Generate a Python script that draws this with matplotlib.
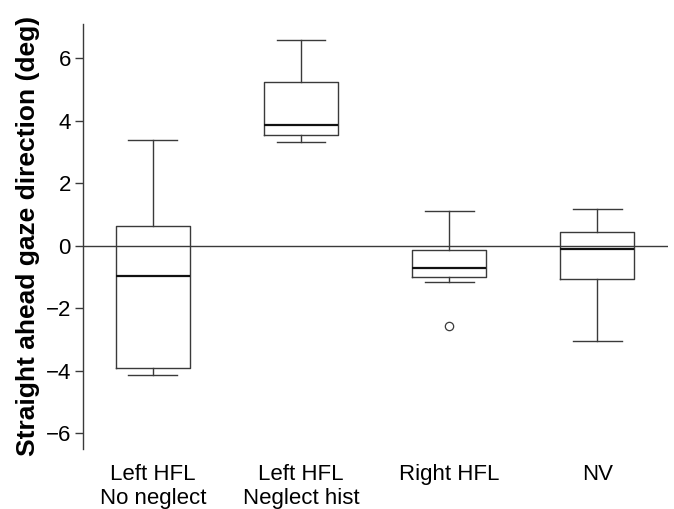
import matplotlib
matplotlib.use('Agg')
import matplotlib.pyplot as plt

# group labels and box statistics (deg)
groups = ['Left HFL\nNo neglect', 'Left HFL\nNeglect hist', 'Right HFL', 'NV']
whislo = [-4.15, 3.32, -1.16, -3.04]
q1 = [-3.92, 3.54, -0.99, -1.06]
med = [-0.98, 3.85, -0.72, -0.11]
q3 = [0.64, 5.25, -0.14, 0.45]
whishi = [3.39, 6.57, 1.10, 1.17]
outliers = [[], [], [-2.56], []]

plt.rcParams['font.family'] = ['Liberation Sans', 'DejaVu Sans']

stats = []
for i in range(len(groups)):
    stats.append({'label': groups[i], 'whislo': whislo[i], 'q1': q1[i], 'med': med[i],
                  'q3': q3[i], 'whishi': whishi[i], 'fliers': outliers[i]})

fig = plt.figure(figsize=(6.74, 5.09), dpi=100)
ax = fig.add_axes([0.1236, 0.118, 0.867, 0.835])

lc = '#3a3a3a'
ax.axhline(0, color=lc, lw=1.0, zorder=1)
ax.bxp(stats, positions=[1, 2, 3, 4], widths=0.5, capwidths=0.33,
       boxprops=dict(color=lc, lw=1.0),
       whiskerprops=dict(color=lc, lw=1.0),
       capprops=dict(color=lc, lw=1.0),
       medianprops=dict(color='#111111', lw=1.6),
       flierprops=dict(marker='o', markersize=6, markerfacecolor='none',
                       markeredgecolor=lc, markeredgewidth=0.9))

ax.set_xlim(0.53, 4.475)
ax.set_ylim(-6.5, 7.1)
ax.set_yticks([-6, -4, -2, 0, 2, 4, 6])
ax.set_yticklabels(['\u22126', '\u22124', '\u22122', '0', '2', '4', '6'])
for s in ['top', 'right', 'bottom']:
    ax.spines[s].set_visible(False)
ax.spines['left'].set_color(lc)
ax.spines['left'].set_linewidth(1.0)
ax.tick_params(axis='y', length=6, width=1.0, color=lc, labelsize=16, pad=3)
ax.tick_params(axis='x', length=0, labelsize=16, pad=11)
ax.set_ylabel('Straight ahead gaze direction (deg)', fontsize=19, fontweight='bold', labelpad=4)

fig.savefig('out.png', dpi=100)
